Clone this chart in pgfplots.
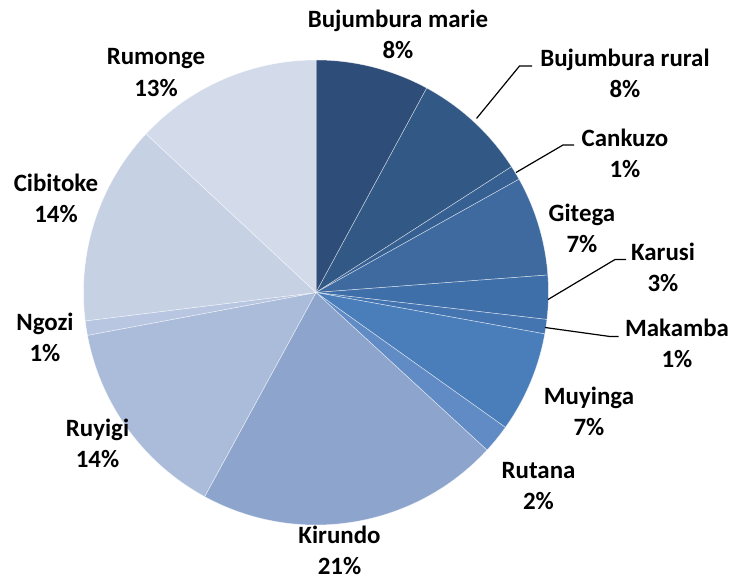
\documentclass[border=0pt]{standalone}
\usepackage{pgfplots}
\usepackage{pgfplotstable}
\pgfplotsset{compat=1.18}
\usepackage{fontspec}
\setmainfont{Carlito}

% slice colours, dark to light
\definecolor{pie0}{RGB}{46,78,121}
\definecolor{pie1}{RGB}{50,88,134}
\definecolor{pie2}{RGB}{55,96,146}
\definecolor{pie3}{RGB}{62,106,160}
\definecolor{pie4}{RGB}{63,111,168}
\definecolor{pie5}{RGB}{68,117,177}
\definecolor{pie6}{RGB}{74,126,186}
\definecolor{pie7}{RGB}{97,139,196}
\definecolor{pie8}{RGB}{141,165,205}
\definecolor{pie9}{RGB}{171,188,218}
\definecolor{pie10}{RGB}{185,198,225}
\definecolor{pie11}{RGB}{198,209,228}
\definecolor{pie12}{RGB}{211,218,234}

% share of each province, clockwise from 12 o'clock
\pgfplotstableread{
name            v
BujumburaMarie  7.9
BujumburaRural  8.0
Cankuzo         1.0
Gitega          6.9
Karusi          3.05
Makamba         1.0
Muyinga         7.0
Rutana          2.0
Kirundo         21.1
Ruyigi          14.1
Ngozi           1.0
Cibitoke        13.9
Rumonge         13.05
}\piedata

\newcommand\lfont{\fontsize{25}{30}\selectfont\bfseries}
\newcommand\lab[4]{%
  \node[anchor=base, font=\lfont, inner sep=0pt] at (axis cs:#1,#2) {#3};
  \node[anchor=base, font=\lfont, inner sep=0pt] at (axis cs:#1,#2+31) {#4};}

\begin{document}
\begin{tikzpicture}
\begin{axis}[
    scale only axis, width=733bp, height=579bp,
    xmin=0, xmax=733, ymin=0, ymax=579, y dir=reverse,
    hide axis, clip=false,
]
\pgfplotstablegetrowsof{\piedata}
\pgfmathtruncatemacro\N{\pgfplotsretval-1}
\def\cum{0}
\pgfplotsforeachungrouped \i in {0,...,\N}{
  \pgfplotstablegetelem{\i}{v}\of\piedata
  \pgfmathsetmacro\a{90-3.6*\cum}
  \pgfmathsetmacro\b{90-3.6*(\cum+\pgfplotsretval)}
  \pgfmathsetmacro\cum{\cum+\pgfplotsretval}
  \edef\temp{\noexpand\fill[pie\i, draw=white, draw opacity=0.6, line width=0.5bp]
    (axis cs:316,292.5) -- ++(\a:232.5bp) arc[start angle=\a, end angle=\b, radius=232.5bp] -- cycle;}
  \temp
}

% leader lines
\draw[black, line width=1.2bp] (axis cs:476.5,118.5) -- (axis cs:519.5,66) -- (axis cs:532,66);
\draw[black, line width=1.2bp] (axis cs:516,172.5) -- (axis cs:563,145) -- (axis cs:574,145);
\draw[black, line width=1.2bp] (axis cs:548,299.5) -- (axis cs:615,259.5) -- (axis cs:626,259.5);
\draw[black, line width=1.2bp] (axis cs:545,327.5) -- (axis cs:610,336.5) -- (axis cs:618.5,336.5);

\lab{398}{28}{Bujumbura marie}{8\%}
\lab{625}{66.5}{Bujumbura rural}{8\%}
\lab{625}{146}{Cankuzo}{1\%}
\lab{582}{221}{Gitega}{7\%}
\lab{663}{260}{Karusi}{3\%}
\lab{677}{336.5}{Makamba}{1\%}
\lab{589}{404}{Muyinga}{7\%}
\lab{538.5}{478.5}{Rutana}{2\%}
\lab{339.5}{543}{Kirundo}{21\%}
\lab{97.5}{436.5}{Ruyigi}{14\%}
\lab{45}{330}{Ngozi}{1\%}
\lab{56}{191.5}{Cibitoke}{14\%}
\lab{156}{65}{Rumonge}{13\%}
\end{axis}
\path (0,0) rectangle (733bp,579bp);
\end{tikzpicture}
\end{document}
